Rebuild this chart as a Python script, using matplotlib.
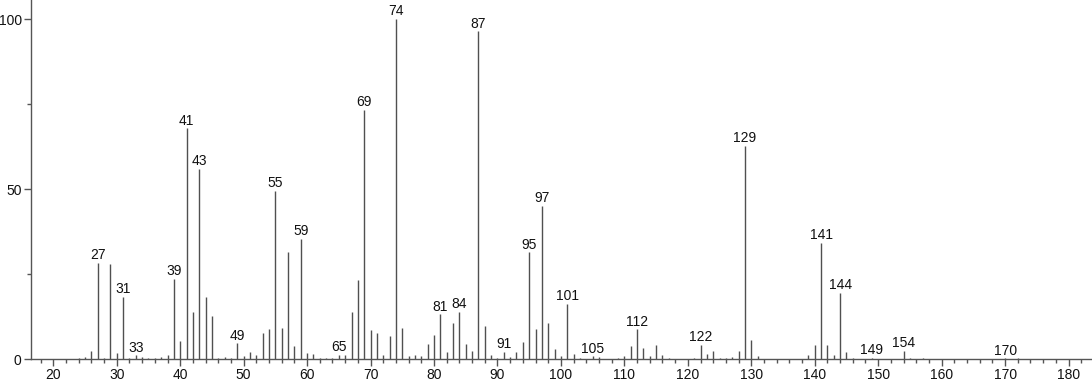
import matplotlib
matplotlib.use("Agg")
import matplotlib.pyplot as plt
from matplotlib.ticker import MultipleLocator

plt.rcParams['font.family'] = ['Liberation Sans', 'DejaVu Sans']

# m/z values and relative intensities
mz = [24, 25, 26, 27, 28, 29, 30, 31, 32, 33, 34, 35, 36, 37, 38, 39, 40, 41, 42, 43,
      44, 45, 46, 47, 48, 49, 50, 51, 52, 53, 54, 55, 56, 57, 58, 59, 60, 61, 62, 63,
      64, 65, 66, 67, 68, 69, 70, 71, 72, 73, 74, 75, 76, 77, 78, 79, 80, 81, 82, 83,
      84, 85, 86, 87, 88, 89, 90, 91, 92, 93, 94, 95, 96, 97, 98, 99, 100, 101, 102, 103,
      105, 106, 109, 110, 111, 112, 113, 114, 115, 116, 117, 121, 122, 123, 124, 125, 126, 127, 128, 129,
      130, 131, 139, 140, 141, 142, 143, 144, 145, 146, 149, 154, 155, 157, 170, 172]
intensity = [0.3, 0.6, 2.4, 28.3, 0.4, 28.1, 1.8, 18.4, 0.4, 1.2, 0.6, 0.5, 0.4, 0.6, 1.2, 23.7, 5.4, 67.9, 14.0, 56.0,
             18.4, 12.7, 0.5, 0.7, 0.5, 4.7, 1.1, 2.2, 1.2, 7.6, 8.9, 49.6, 9.3, 31.4, 3.9, 35.5, 1.8, 1.5, 0.5, 0.4,
             0.5, 1.4, 1.4, 14.0, 23.3, 73.3, 8.6, 7.6, 1.2, 6.8, 100.0, 9.3, 0.9, 1.4, 0.9, 4.5, 7.1, 13.2, 2.2, 10.7,
             14.0, 4.5, 2.4, 96.4, 9.9, 1.2, 0.4, 2.2, 0.7, 2.2, 5.2, 31.4, 8.8, 45.0, 10.8, 2.9, 1.0, 16.2, 1.5, 0.5,
             0.9, 0.7, 0.5, 1.0, 3.9, 8.8, 3.2, 0.9, 4.2, 1.2, 0.5, 0.4, 4.2, 1.5, 2.4, 0.5, 0.5, 0.8, 2.4, 62.8,
             5.7, 0.9, 1.3, 4.2, 34.2, 4.2, 1.3, 19.5, 2.2, 0.5, 0.4, 2.4, 0.5, 0.4, 0.3, 0.4]

labelled = [27, 31, 33, 39, 41, 43, 49, 55, 59, 65, 69, 74, 81, 84, 87, 91, 95, 97,
            101, 105, 112, 122, 129, 141, 144, 149, 154, 170]

fig = plt.figure(figsize=(10.92, 3.84), dpi=100)
ax = fig.add_axes([30.7 / 1092, 24.7 / 384, 1 - 30.7 / 1092, 1 - 24.7 / 384])

ax.vlines(mz, 0, intensity, colors='#505050', linewidth=1.0)

for m in labelled:
    h = intensity[mz.index(m)]
    ax.annotate(str(m), (m, h), xytext=(0, 0.5), textcoords='offset points',
                ha='center', va='bottom', fontsize=10, color='#111111')

ax.set_xlim(16.44, 183.7)
ax.set_ylim(0, 105.6)

ax.xaxis.set_major_locator(MultipleLocator(10))
ax.xaxis.set_minor_locator(MultipleLocator(2))
ax.yaxis.set_major_locator(MultipleLocator(50))
ax.yaxis.set_minor_locator(MultipleLocator(25))

ax.tick_params(axis='both', which='major', length=5, width=1, color='#555555',
               labelsize=10, labelcolor='#111111', pad=1.5)
ax.tick_params(axis='both', which='minor', length=3, width=1, color='#555555')

for side in ['top', 'right']:
    ax.spines[side].set_visible(False)
for side in ['left', 'bottom']:
    ax.spines[side].set_color('#555555')
    ax.spines[side].set_linewidth(1.0)

fig.savefig('out.png', dpi=100)
